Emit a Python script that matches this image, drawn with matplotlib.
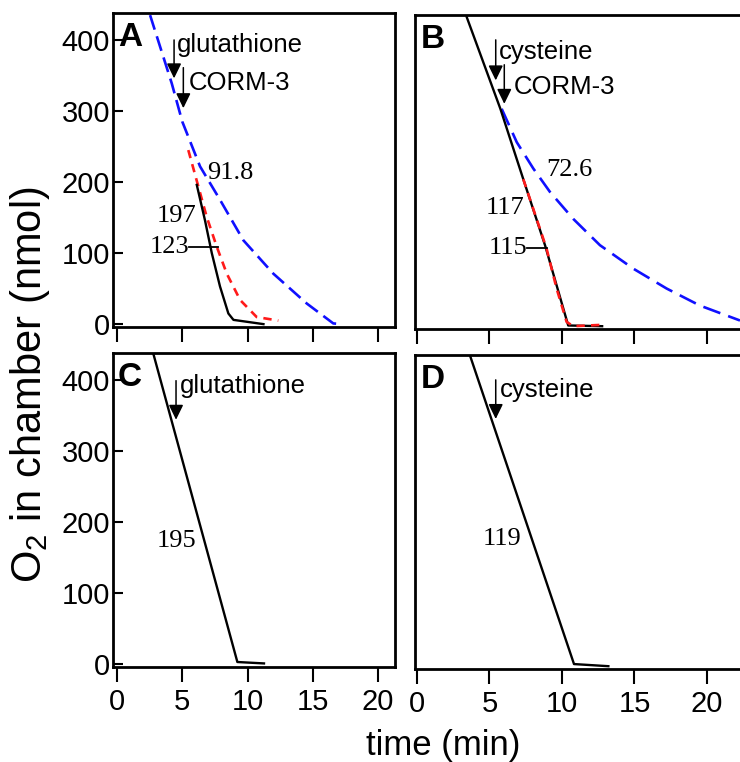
import matplotlib
matplotlib.use('Agg')
import matplotlib.pyplot as plt

plt.rcParams['font.family'] = ['Liberation Sans', 'DejaVu Sans']
plt.rcParams['mathtext.fontset'] = 'custom'
plt.rcParams['mathtext.rm'] = 'Liberation Sans'
plt.rcParams['lines.scale_dashes'] = False

NARROW = ['Liberation Sans Narrow', 'Liberation Sans', 'DejaVu Sans']
SERIF = ['Liberation Serif', 'DejaVu Serif']

# time (min) / O2 (nmol)
# A: glutathione then CORM-3
a_black_t = [6.11, 6.74, 7.26, 7.89, 8.53, 8.92, 11.22]
a_black_o2 = [196, 146, 100, 53, 15, 6, 0]
a_red_t = [5.46, 6.87, 7.64, 8.41, 9.43, 10.7, 12.36]
a_red_o2 = [245, 151, 109, 71, 34, 10, 5]
a_blue_t = [2.53, 4.19, 5.0, 6.36, 7.89, 9.68, 11.98, 14.54, 16.57, 17.2]
a_blue_o2 = [435, 339, 285, 222, 175, 118, 71, 29, 1, 0]

# B: cysteine then CORM-3
b_black_t = [3.43, 5.75, 7.33, 8.83, 10.43, 12.77]
b_black_o2 = [435, 306, 207, 114, 1, 0]
b_red_t = [7.33, 8.94, 9.63, 10.32, 10.78, 12.86]
b_red_o2 = [207, 109, 53, 6, 0, 2]
b_blue_t = [5.84, 6.88, 8.02, 9.17, 10.78, 12.62, 14.92, 17.22, 19.52, 22.28]
b_blue_o2 = [306, 259, 222, 189, 151, 114, 81, 53, 29, 8]

# C: glutathione only, D: cysteine only
c_black_t = [2.78, 9.22, 11.26]
c_black_o2 = [437, 3, 1]
d_black_t = [3.66, 10.83, 13.2]
d_black_o2 = [437, 3, 0]

x_ticks = [0, 5, 10, 15, 20]
y_ticks = [0, 100, 200, 300, 400]

# arrows: (x, top, tip, label, label_x, label_y)
a_arrows = [(4.37, 400, 346, 'glutathione', 4.6, 393),
            (5.08, 361, 304, 'CORM-3', 5.52, 339)]
b_arrows = [(5.43, 403, 346, 'cysteine', 5.68, 386),
            (6.02, 368, 313, 'CORM-3', 6.64, 337)]
c_arrows = [(4.52, 399, 344, 'glutathione', 4.78, 392)]
d_arrows = [(5.43, 403, 348, 'cysteine', 5.72, 389)]

# rate labels: (text, x, y, ha)
a_rates = [('91.8', 6.87, 213, 'left'), ('197', 4.57, 152, 'center'),
           ('123', 5.52, 109, 'right')]
b_rates = [('72.6', 8.94, 220, 'left'), ('117', 6.07, 166, 'center'),
           ('115', 7.61, 110, 'right')]
c_rates = [('195', 4.57, 173, 'center')]
d_rates = [('119', 5.84, 179, 'center')]

fig = plt.figure(figsize=(7.4, 7.62), dpi=100)

axA = fig.add_axes([0.1527, 0.5709, 0.3811, 0.4121])
axB = fig.add_axes([0.5608, 0.5682, 0.4662, 0.4121])
axC = fig.add_axes([0.1527, 0.1247, 0.3811, 0.4121])
axD = fig.add_axes([0.5608, 0.1220, 0.4662, 0.4121])

axA.set_xlim(-0.31, 21.3)
axC.set_xlim(-0.31, 21.3)
axB.set_xlim(-0.14, 23.66)
axD.set_xlim(-0.14, 23.66)

for ax, letter in [(axA, 'A'), (axB, 'B'), (axC, 'C'), (axD, 'D')]:
    ax.set_ylim(-4, 438)
    for s in ax.spines.values():
        s.set_linewidth(2)
    ax.set_xticks(x_ticks)
    ax.set_yticks(y_ticks)
    ax.tick_params(axis='x', direction='out', length=11, width=1.5, pad=4,
                   labelsize=21)
    ax.tick_params(axis='y', direction='in', length=7, width=1.5, pad=2,
                   labelsize=21)
    ax.text(0.018, 0.97, letter, transform=ax.transAxes, fontsize=24,
            fontweight='bold', ha='left', va='top')

axA.tick_params(axis='x', labelbottom=False)
axB.tick_params(axis='x', labelbottom=False)
axB.tick_params(axis='y', left=False, labelleft=False)
axD.tick_params(axis='y', left=False, labelleft=False)
axB.spines['right'].set_visible(False)
axD.spines['right'].set_visible(False)

for ax in [axA, axB, axC, axD]:
    for lab in ax.get_xticklabels() + ax.get_yticklabels():
        lab.set_family(NARROW)

# traces
axA.plot(a_blue_t, a_blue_o2, color='#1010ff', lw=1.9, ls=(0, (11, 5)))
axA.plot(a_red_t, a_red_o2, color='#ff1a1a', lw=1.9, ls=(0, (6, 4.5)))
axA.plot(a_black_t, a_black_o2, color='black', lw=1.7)

axB.plot(b_blue_t, b_blue_o2, color='#1010ff', lw=1.9, ls=(0, (13, 6)))
axB.plot(b_black_t, b_black_o2, color='black', lw=1.7)
axB.plot(b_red_t, b_red_o2, color='#ff1a1a', lw=1.9, ls=(0, (6, 4.5)))

axC.plot(c_black_t, c_black_o2, color='black', lw=1.7)
axD.plot(d_black_t, d_black_o2, color='black', lw=1.7)

for ax, arrows, rates in [(axA, a_arrows, a_rates), (axB, b_arrows, b_rates),
                          (axC, c_arrows, c_rates), (axD, d_arrows, d_rates)]:
    for x, top, tip, label, lx, ly in arrows:
        ax.annotate('', xy=(x, tip), xytext=(x, top),
                    arrowprops=dict(arrowstyle='-|>,head_length=0.45,head_width=0.22',
                                    mutation_scale=20, lw=1.1, color='black',
                                    shrinkA=0, shrinkB=0))
        ax.text(lx, ly, label, fontsize=18.5, ha='left', va='center')
    for txt, x, y, ha in rates:
        ax.text(x, y, txt, fontsize=19, family=SERIF, ha=ha, va='center')

# little leader lines next to 123 and 115
axA.plot([5.52, 7.76], [109, 109], color='black', lw=1.3)
axB.plot([7.61, 8.94], [110, 110], color='black', lw=1.3)

fig.text(0.04, 1 - 385 / 762, 'O$_\\mathrm{2}$ in chamber (nmol)', rotation=90,
         ha='center', va='center', fontsize=30)
fig.text(443 / 740, 1 - 745 / 762, 'time (min)', ha='center', va='center',
         fontsize=25)

fig.savefig('out.png', dpi=100)
